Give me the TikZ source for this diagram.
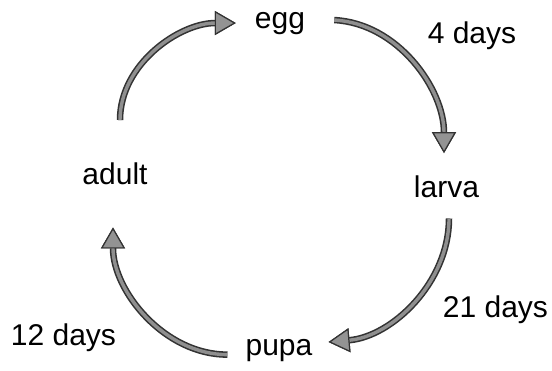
\documentclass[tikz,border=0pt]{standalone}
\usepackage{fontspec}
\setmainfont{Liberation Sans}
\usetikzlibrary{arrows.meta}
\begin{document}
\begin{tikzpicture}[x=1pt,y=1pt,
  lbl/.style={inner sep=0pt, anchor=base, font=\fontsize{30}{36}\selectfont},
  tipc/.style={-{Triangle[length=21pt,width=24pt,line width=1.2pt,fill=gray!85,color=black!80]}},
  cyc/.style={line width=6.5pt, draw=black!80, tipc,
    postaction={draw=gray!88, line width=3.4pt, tipc}}]
\useasboundingbox (0,0) rectangle (552,370);
\fill[white] (0,0) rectangle (552,370);
\node[lbl] (egg)   at (280,341)   {egg};
\node[lbl] (d4)    at (472,326)   {4 days};
\node[lbl] (larva) at (446.5,172) {larva};
\node[lbl] (d21)   at (495.5,53)  {21 days};
\node[lbl] (pupa)  at (279,15)    {pupa};
\node[lbl] (d12)   at (63.5,25)   {12 days};
\node[lbl] (adult) at (115,185)   {adult};
\draw[cyc] ([xshift=5pt,yshift=43pt]adult.north) to[out=90,in=180,looseness=0.95] ([xshift=-19pt,yshift=1pt]egg.west);
\draw[cyc] ([xshift=29pt,yshift=4pt]egg.east) to[out=-3,in=90,looseness=0.95] ([xshift=-2.5pt,yshift=23pt]larva.north);
\draw[cyc] ([xshift=2.5pt,yshift=-20pt]larva.south) to[out=-90,in=5,looseness=0.95] ([xshift=16pt,yshift=8pt]pupa.east);
\draw[cyc] ([xshift=-18pt,yshift=-4.6pt]pupa.west) to[out=180,in=-90,looseness=0.95] ([xshift=-2pt,yshift=-42pt]adult.south);
\end{tikzpicture}
\end{document}
